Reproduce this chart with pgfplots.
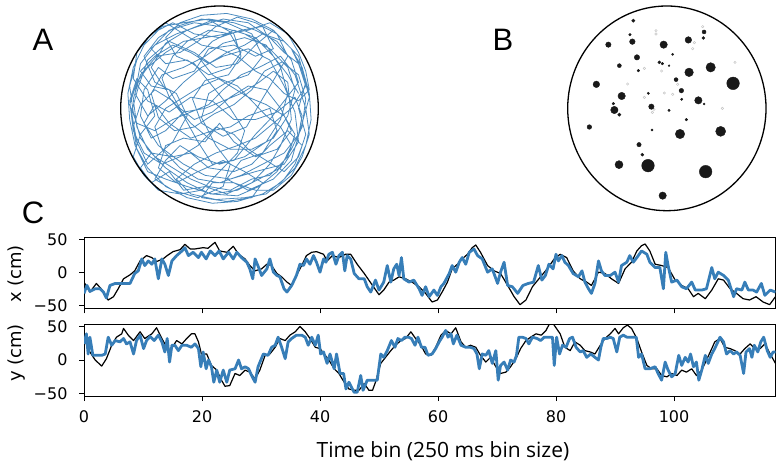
\documentclass[border=0pt]{standalone}
\usepackage{fontspec}
\setmainfont{DejaVu Sans}
\newfontfamily\lbl{Liberation Sans}
\newfontfamily\osans{Open Sans}
\usepackage{pgfplots}
\pgfplotsset{compat=1.18}
\usepackage{pgfplotstable}
\definecolor{dblue}{HTML}{377EB8}

\pgfplotstableread{
x y
-30 10
-38 22
-30 35
-18 42
-5 47
8 40
12 28
5 18
-8 15
-15 5
-10 -8
2 -15
15 -10
22 2
30 15
38 28
32 40
20 46
10 49
-2 44
-12 36
-22 30
-35 28
-44 18
-48 5
-46 -10
-40 -22
-30 -32
-18 -40
-5 -46
10 -47
22 -42
32 -34
40 -22
46 -10
48 5
44 18
35 25
25 20
18 10
8 2
-3 -3
-14 -10
-25 -12
-34 -5
-38 8
-32 18
-20 22
-8 28
2 35
14 38
26 34
34 22
38 8
34 -6
26 -18
14 -26
0 -30
-12 -26
-22 -20
-30 -28
-36 -38
-26 -44
-12 -48
2 -42
6 -30
-2 -20
-10 -5
-6 8
4 14
16 18
24 28
18 40
4 46
-10 48
-24 44
-34 38
-42 28
-36 14
-24 8
-18 -4
-26 -18
-40 -30
-46 -18
-49 -2
-45 12
-40 26
-28 36
-14 30
-2 22
10 24
20 34
30 42
40 32
46 20
50 6
46 -8
40 -28
30 -38
16 -44
4 -38
12 -28
24 -24
32 -12
28 0
16 -4
6 -10
-4 -12
-16 -16
-28 -8
-36 2
-42 -8
-34 -20
-20 -30
-8 -36
6 -38
20 -34
36 -30
44 -18
42 -2
36 12
28 26
16 32
2 28
-10 22
-20 14
-30 4
-40 -4
-47 8
-44 24
-36 34
-24 40
-12 44
2 48
16 46
28 38
36 30
44 24
48 12
40 0
30 -8
20 -16
10 -20
-2 -24
-14 -30
-24 -38
-16 -46
-2 -49
14 -48
26 -46
36 -38
42 -30
46 -20
38 -12
28 -20
18 -30
8 -34
-6 -32
-16 -24
-26 -26
-38 -24
-44 -32
-38 -40
-28 -34
-20 -44
-8 -42
4 -46
18 -40
28 -30
34 -20
40 -6
38 14
30 20
22 14
12 8
2 4
-8 0
-20 -2
-30 -12
-38 -16
-44 -4
-42 10
-34 22
-26 16
-14 20
-6 32
8 34
20 28
30 32
24 44
12 42
0 38
-14 40
-26 46
-38 40
-46 30
-48 16
-40 4
-28 -2
-16 6
-4 4
8 -6
20 -6
32 -2
42 6
46 -4
44 -14
36 -24
24 -30
12 -36
0 -40
-12 -38
-22 -32
-32 -22
-36 -10
-30 0
-20 6
-10 12
0 16
10 12
18 4
26 -4
34 -10
40 -20
34 -32
22 -38
10 -44
-4 -46
-18 -42
-30 -38
-40 -34
-46 -22
-48 -10
-44 2
-36 10
-26 4
-16 -8
-6 -16
6 -22
18 -22
30 -16
38 -4
42 10
38 22
28 32
14 40
0 44
-14 46
-28 42
-38 32
-30 24
-18 26
-6 18
6 22
12 30
6 40
-6 42
-18 36
-26 28
-32 16
-28 6
-20 -4
-12 -18
-4 -30
8 -28
20 -14
28 -6
36 4
44 14
40 26
32 36
20 42
8 46
-6 48
-20 46
-32 44
-42 34
-48 22
-51 8
-50 -6
-47 -20
-40 -32
-30 -42
-18 -48
-4 -51
10 -50
24 -46
34 -40
42 -32
48 -20
51 -6
50 8
46 22
40 32
30 42
18 48
4 51
-10 50
-22 46
-30 38
-24 28
-14 24
-4 12
6 0
14 -12
10 -24
0 -34
-10 -44
-22 -46
-34 -44
-42 -36
-48 -26
-44 -14
-36 -4
-40 10
-46 16
-50 4
-48 -12
-42 -24
-32 -30
-22 -26
-12 -20
-2 -10
8 -14
16 -22
26 -28
36 -34
44 -26
48 -14
44 0
48 14
44 28
36 36
24 40
14 34
4 30
-6 24
-16 30
-26 34
-36 28
-44 20
-38 12
-28 10
-22 0
-14 -6
-4 -2
6 6
16 12
26 10
34 0
40 -12
32 -22
20 -26
8 -18
0 -8
-8 -18
-20 -16
-30 -20
-34 -32
-24 -40
-12 -34
2 -28
14 -34
24 -40
18 -48
4 -50
-10 -48
-4 -40
8 -40
20 -44
30 -44
40 -36
46 -26
50 -14
48 0
42 18
34 28
22 22
12 18
2 10
-6 2
-16 -2
-26 -6
-36 -12
-46 -8
-50 2
-46 14
-40 22
-30 30
-20 36
-8 38
4 40
16 42
28 46
38 40
44 30
48 20
50 10
44 4
36 8
28 16
20 20
10 28
0 32
-10 34
-20 40
-30 46
-40 38
-46 26
-50 12
-48 -2
-44 -16
-36 -26
-26 -32
-16 -38
-6 -42
6 -44
18 -38
28 -36
38 -26
42 -14
36 -4
26 2
16 6
6 12
-4 18
-12 28
-4 36
8 42
20 38
30 28
38 18
44 8
}\traj

\pgfplotstableread{
x y r
-33.5 87.7 1.7
37.2 76.4 2.0
36.5 70.4 1.5
-36.9 73.7 1.3
-58.5 63.7 2.7
-34.5 66.7 2.8
-3.2 63.7 3.7
21.5 68.4 3.3
5.8 54.0 1.1
-29.9 51.0 2.7
-7.5 46.0 1.5
-4.5 44.7 1.3
2.2 42.7 0.9
-47.5 42.7 2.0
-28.5 37.7 1.3
22.2 36.0 4.3
43.8 41.0 4.7
66.2 25.0 6.3
9.2 28.7 2.0
-70.5 24.0 3.3
14.5 17.7 2.3
-45.2 12.35 3.7
-18.5 15.0 1.2
14.8 9.0 1.2
31.5 8.0 3.7
37.2 4.35 1.0
-53.5 4.7 1.3
-52.5 -1.65 3.7
-47.5 -6.3 1.7
-15.5 1.7 2.7
2.2 -2.0 1.2
19.5 -11.3 1.3
-77.5 -18.65 2.3
-14.85 -21.65 1.0
13.15 -25.65 4.7
53.8 -23.0 5.0
-27.85 -36.3 2.2
-24.5 -46.3 1.5
-47.85 -56.3 4.0
-18.85 -57.3 6.3
38.8 -63.3 6.3
-4.2 -87.3 3.7
}\dots

\pgfplotstableread{
x y
-10.85 77.7
-10.85 74.35
27.5 65.7
25.8 59.7
-22.5 40.0
-5.2 37.35
68.15 46.0
-39.2 24.35
10.8 24.0
-22.5 11.0
-2.5 15.35
5.8 14.0
-12.85 -1.0
-14.5 -4.0
55.5 0.0
35.8 81.7
}\faint

\pgfplotstableread{
t v
0 -14
1 -29
2.1 -16
3 -25
4.1 -41
5 -36
5.8 -24
6.7 -9
7.8 -3
8.6 3
9.5 18
10.6 26
11.5 23
12.3 17
13.4 21
14.1 26
15.1 32
16.3 35
17.1 43
18 36
18.8 36
20.2 38
21 37
22.2 46
23 33
24.2 31
25.3 40
26.2 28
27.3 21
28.1 11
29 3
30.1 6
31 13
31.8 11
32.7 -1
33.5 -6
34.4 -14
35.2 -19
36 -4
36.9 11
37.7 26
38.6 31
39.4 32
40.6 28
41.2 18
42.1 26
43.2 23
44.3 28
45.2 28
46.3 13
47.5 -1
48.9 -19
50 -33
50.8 -26
51.7 -14
52.5 -11
53.4 -6
54.5 -9
55.6 -14
56.8 -21
57.9 -31
59 -44
59.9 -41
60.7 -29
61.6 -14
62.4 6
63.3 13
64.1 21
65 28
65.8 38
66.4 42
67.2 31
68.4 11
69.5 3
70.6 -1
71.8 -19
72.9 -36
73.9 -48
74.9 -41
76 -21
77.1 -9
78.5 6
79.7 21
80.7 28
81.8 23
82.9 3
84.1 -9
85.2 -14
86 -19
87.2 1
88.3 -1
89.4 -9
90.6 -16
91.7 6
92.8 16
93.7 33
94.5 41
95.1 43.5
95.9 33
96.8 13
97.9 11
99 8
100.2 -11
101.3 -19
102.4 -24
103.3 -36
104.1 -31
105.3 -39
106.4 -26
107.5 -9
108.4 -11
109.5 -24
110.6 -31
111.7 -39
112.8 -41
113.9 -36
115.1 -44
116.2 -48
117.2 -36
}\xtrue

\pgfplotstableread{
t v
0 -31
0.5 -19
1 -28
1.9 -24
2.7 -24
3.3 -29
3.8 -38
4.4 -19
5.3 -16
6.7 -16
7.8 -16
8.6 -1
9.2 3
9.8 21
10.3 11
10.9 18
11.5 13
12 21
12.6 -9
13.2 21
13.7 13
14.3 -4
14.9 18
15.7 26
16.6 33
17.1 38
17.7 26
18.5 31
19.4 23
19.9 31
20.7 21
21.4 33
22.2 26
22.9 33
23.6 21
24.5 31
25.3 21
25.9 31
26.7 23
27.6 16
28.1 6
28.6 -9
29 21
29.6 8
30.1 -4
31 6
31.5 21
32.1 1
32.7 -4
33.2 -6
33.9 -24
34.4 -29
35.2 -19
36 -4
36.6 13
37.2 11
37.7 21
38.3 13
38.9 26
39.4 16
40 1
40.6 21
41 16
41.5 28
42.1 31
42.7 13
43.2 26
43.8 31
44.2 3
44.6 26
45.2 21
45.8 -1
46.6 -9
47.5 -9
48 -21
48.6 -29
49.4 -11
50 -26
50.8 -14
51.4 11
52 -14
52.5 6
53 13
53.4 -4
53.8 23
54.2 -9
55.1 -14
55.9 -11
56.8 -24
57.3 -34
57.9 -21
58.5 -36
59.3 -26
59.9 -34
60.5 -21
61 -16
61.9 -1
62.4 11
63 1
63.6 16
64.1 23
64.7 13
65.3 31
66.1 36
66.7 26
67.5 21
68.4 1
69.2 6
70.1 -16
70.6 1
71.2 16
71.8 -19
72.6 -21
73.5 -31
74.4 -19
75.3 -16
76.2 -14
77 11
77.6 -11
78.2 -4
78.8 13
79.5 6
80 28
80.4 18
81 26
81.5 16
82.1 11
82.9 -1
83.8 -6
84.4 3
84.9 -14
85.5 -24
86 -31
86.6 -16
87.2 18
87.7 3
88.3 -4
89.2 -4
90 1
90.6 -14
91.1 11
92 16
92.5 26
93.1 16
93.7 23
94.5 33
95.4 28
95.9 16
96.8 8
97.6 8
98.2 -24
98.6 31
99 11
99.6 -14
100.5 -11
101.3 -21
102.1 -24
103 -14
103.6 -26
104.7 -26
105.5 -24
106.4 8
106.9 -9
107.5 1
108.4 -4
109.2 -11
110.1 -36
110.6 -24
111.5 -26
112 -14
112.6 -26
113.4 -26
114 -29
114.8 -16
115.4 -34
116.3 -26
117.2 -29
}\xdec

\pgfplotstableread{
t v
0 32
1 12
1.9 0
3 -9
3.8 2
4.7 22
5.5 34
6.4 39
6.7 47
7.5 37
8.4 29
9.5 42
10.3 32
11.5 39
12.3 48
13.2 32
13.7 24
14.6 14
15.7 29
16.6 24
17.4 32
18.2 39
18.8 39
19.4 27
19.9 9
20.8 9
21.6 -8
22.5 -15
23.3 -30
23.9 -39
24.7 -38
25.6 -20
26.4 -23
27.3 -15
28.1 -18
29 -28
29.8 -15
30.7 7
31.5 9
32.4 19
33.2 32
34.1 29
34.9 37
35.8 42
36.6 50
37.5 42
38.3 32
39.2 19
40 17
40.7 9
41.5 0
42.4 -13
43.2 -20
44.1 -33
44.9 -43
45.8 -45
46.6 -45
47.5 -35
48.3 -45
48.9 -45
49.4 -33
50.3 -5
51.1 4
52 14
52.8 22
53.7 29
54.5 32
55.4 42
56.2 32
57.1 22
57.9 9
58.8 7
59.6 19
60.5 37
61.3 44
62.2 39
63 48
63.9 27
64.7 19
65.5 22
66.4 19
67.2 7
68.1 -3
68.9 4
69.8 -10
70.6 -20
71.5 -18
72.3 -10
73.2 2
74 17
74.9 29
75.7 34
76.6 39
77.5 37
78.3 44
78.9 54
79.6 53
80.7 39
81.5 19
82.4 14
83.2 27
84.1 22
84.9 14
85.8 12
86.6 9
87.5 22
88.3 32
89.2 39
90 47
90.6 39
91.4 48
92.1 52
92.8 47
93.7 32
94.5 12
95.4 -8
96.2 -13
97.1 -13
97.9 -23
98.8 -25
99.6 -20
100.5 -23
101.3 -15
102.1 -18
103 -13
103.8 -23
104.7 -15
105.5 0
106.4 17
106.9 27
107.8 32
108.6 19
109.5 17
110.3 14
111.2 9
112 17
112.9 24
113.7 17
114.6 17
115.4 24
116.3 9
117.2 -5
}\ytrue

\pgfplotstableread{
t v
0 24
0.4 39
0.7 9
1 34
1.5 7
2.1 7
3 7
3.6 9
4.1 34
4.7 22
5.3 29
6.1 27
6.7 32
7.2 24
7.8 27
8.4 9
8.9 29
9.5 37
10.1 17
10.6 29
11.2 35
11.9 29
12.6 37
13.2 27
13.7 12
14.1 32
14.5 -3
14.9 22
15.4 22
16 14
16.6 22
17.4 22
18.2 19
18.8 24
19.4 17
19.8 -10
20.2 12
20.7 -13
21.1 0
21.6 -10
22 -33
22.5 -15
23 -33
23.6 -15
24.2 -33
24.7 -15
25.6 -13
26.2 0
26.7 -13
27.3 -10
27.9 -13
28.4 -23
29 -33
29.5 -10
30.4 9
31.2 7
31.8 19
32.4 22
32.9 34
33.5 19
34.1 2
34.6 27
35.2 32
36 37
36.9 37
37.5 34
38 22
38.6 34
39.2 22
39.7 37
40.1 9
40.6 12
41.2 -5
41.7 9
42.4 -13
42.8 9
43.4 -20
44 -20
44.4 -43
44.9 -33
45.3 -40
45.8 -48
46.3 -48
46.9 -23
47.3 -45
48 -30
48.9 -30
49.7 -30
50.3 9
50.8 4
51.4 14
52.1 29
52.7 19
53.2 32
53.8 29
54.4 34
55 34
55.5 32
56.1 22
56.6 34
57.2 19
57.8 19
58.3 7
59 9
59.6 17
60.2 27
60.7 34
61.3 44
61.7 34
62.2 39
62.6 24
63.2 37
63.9 22
64.7 19
65.5 19
66.1 17
66.6 9
67 -13
67.5 9
68.1 7
68.6 14
69.2 -5
69.8 14
70.2 -30
70.6 -8
71.2 -3
71.8 -15
72.3 0
72.9 -3
73.3 7
73.7 34
74.3 34
74.9 32
75.4 24
76 34
76.8 32
77.4 29
78 34
78.9 34
79.4 34
79.7 -8
80.1 34
80.6 9
81.1 22
81.7 19
82.3 32
82.8 34
83.4 19
84.1 12
84.6 14
85.2 4
85.9 9
86.6 4
87.2 0
87.6 19
88 32
88.6 32
89.2 34
89.7 32
90.3 12
90.8 34
91.4 37
92 34
92.8 34
93.6 34
94 4
94.5 9
95.1 -13
95.9 -13
96.8 -10
97.3 -20
97.9 -30
98.5 -3
99 -15
99.6 -25
100.2 -20
100.8 7
101.3 -8
101.9 4
102.4 -3
102.8 9
103.3 -10
103.8 -3
104.2 -30
104.7 -15
105.3 7
105.8 -5
106.4 9
106.9 17
107.8 34
108.4 27
108.9 9
109.5 14
110.1 9
110.6 12
111.2 7
111.8 -20
112.2 12
112.8 17
113.2 4
113.6 22
114.2 12
114.7 27
115.2 34
115.8 14
116.3 4
116.8 12
117.2 12
}\ydec

\pgfplotsset{
  cpanel/.style={
    scale only axis, anchor=south west, width=691.5pt,
    xmin=0, xmax=117.2, ymin=-53.5, ymax=53.6,
    axis line style={line width=1pt, black},
    tick align=outside, major tick length=5pt,
    tick style={black, line width=1pt},
    xtick={0,20,40,60,80,100}, ytick={-50,0,50},
    yticklabels={−50,0,50},
    tick pos=left,
    ticklabel style={font=\fontsize{16}{18}\selectfont},
    yticklabel style={xshift=-8pt},
    xticklabel style={yshift=-6pt},
  },
  truth/.style={black, line width=1.2pt, line join=round},
  decoded/.style={dblue, line width=2.8pt, line join=round},
}

\begin{document}
\begin{tikzpicture}[x=1pt,y=1pt]
\useasboundingbox (0,0) rectangle (776,464);

% Panel A
\begin{axis}[at={(120.7pt,253.3pt)}, anchor=south west, scale only axis,
  width=197.6pt, height=204.7pt, xmin=-55, xmax=55, ymin=-55, ymax=55,
  hide axis, clip=false]
\addplot[dblue!90, line width=0.8pt, line join=round] table[x=x,y=y] {\traj};
\draw[black, line width=1.3pt] (axis cs:0,0) ellipse [x radius=55, y radius=55];
\end{axis}

% Panel B
\begin{axis}[at={(567.7pt,253.3pt)}, anchor=south west, scale only axis,
  width=198.3pt, height=204.7pt, xmin=-99.15, xmax=99.15, ymin=-102.35, ymax=102.35,
  hide axis, clip=false]
\addplot[only marks, mark=o, mark size=1.2pt, gray!45, line width=0.5pt] table[x=x,y=y] {\faint};
\addplot[scatter, only marks, mark=*, scatter/use mapped color={draw=black!90, fill=black!90},
  visualization depends on={\thisrow{r}\as\perpointmarksize},
  scatter/@pre marker code/.append style={/tikz/mark size=\perpointmarksize pt}]
  table[x=x,y=y] {\dots};
\draw[black, line width=1.3pt] (axis cs:0,0) ellipse [x radius=99.15, y radius=102.35];
\end{axis}

% Panel C top
\begin{axis}[cpanel, at={(84pt,155.7pt)}, height=71pt, xticklabels={}]
\addplot[truth] table[x=t,y=v] {\xtrue};
\addplot[decoded] table[x=t,y=v] {\xdec};
\end{axis}

% Panel C bottom
\begin{axis}[cpanel, at={(84pt,68pt)}, height=72pt,
  xticklabels={0,20,40,60,80,100}]
\addplot[truth] table[x=t,y=v] {\ytrue};
\addplot[decoded] table[x=t,y=v] {\ydec};
\end{axis}

\node[rotate=90, font=\fontsize{18}{20}\selectfont] at (15.5,190) {x (cm)};
\node[rotate=90, font=\fontsize{18}{20}\selectfont] at (17,111) {y (cm)};
\node[anchor=base, font=\osans\fontsize{21}{24}\selectfont] at (443,7) {Time bin (250 ms bin size)};

\node[font=\lbl\fontsize{31}{31}\selectfont] at (43,424) {A};
\node[font=\lbl\fontsize{31}{31}\selectfont] at (503,424) {B};
\node[font=\lbl\fontsize{31}{31}\selectfont] at (33,251) {C};
\end{tikzpicture}
\end{document}
